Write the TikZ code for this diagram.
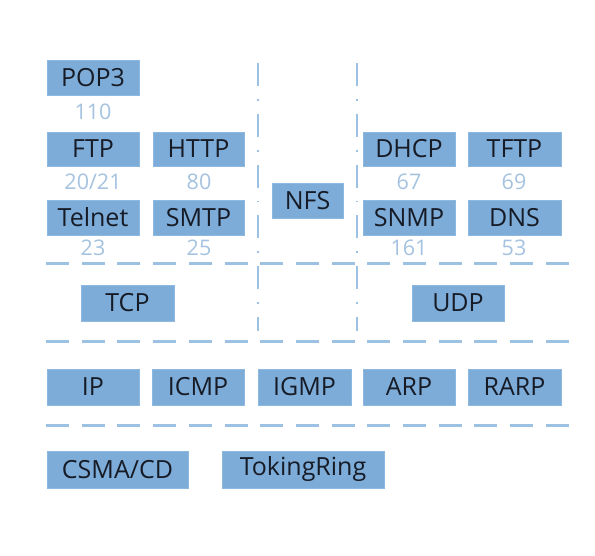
\documentclass[tikz,border=0pt]{standalone}
\usepackage{fontspec}
\setmainfont{Open Sans}
\definecolor{boxfill}{HTML}{7DACD8}
\definecolor{boxedge}{HTML}{8DB8E0}
\definecolor{numcol}{HTML}{A5C3E0}
\definecolor{linecol}{HTML}{9DC1E2}
\definecolor{txtcol}{HTML}{161B26}
\begin{document}
\begin{tikzpicture}[x=1pt,y=-1pt,
  proto/.style={draw=boxedge,line width=0.8pt,fill=boxfill,text=txtcol,font=\fontsize{25}{25}\selectfont,inner sep=0pt},
  portnum/.style={text=numcol,font=\fontsize{21.5}{21.5}\selectfont,inner sep=0pt},
  hsep/.style={draw=linecol,line width=3pt,dash pattern=on 23pt off 12.7pt},
  vsep/.style={draw=linecol,line width=2.2pt,dash pattern=on 23pt off 13pt on 1.8pt off 13pt}]
\useasboundingbox (0,0) rectangle (595,556);
\fill[white] (0,0) rectangle (595,556);
% helper: box by corners
\newcommand{\pbox}[6]{\node[proto,minimum width=#4-#2,minimum height=#5-#3] (#1) at ({(#2+#4)/2},{(#3+#5)/2}) {#6};}
% application layer
\pbox{pop}{47}{60}{139}{95}{POP3}
\pbox{ftp}{47}{132}{139}{166}{FTP}
\pbox{http}{153}{132}{244}{166}{HTTP}
\pbox{telnet}{47}{200}{139}{235}{Telnet}
\pbox{smtp}{153}{200}{244}{235}{SMTP}
\pbox{nfs}{272}{183}{343}{218}{NFS}
\pbox{dhcp}{363}{132}{455}{166}{DHCP}
\pbox{tftp}{468}{132}{561}{166}{TFTP}
\pbox{snmp}{363}{200}{455}{235}{SNMP}
\pbox{dns}{468}{200}{561}{235}{DNS}
\node[portnum] (n110) at (93,112) {110};
\node[portnum] (n2021) at (93,182) {20/21};
\node[portnum] (n80) at (199,182) {80};
\node[portnum] (n23) at (93,248) {23};
\node[portnum] (n25) at (199,248) {25};
\node[portnum] (n67) at (409,182) {67};
\node[portnum] (n69) at (514,182) {69};
\node[portnum] (n161) at (409,248) {161};
\node[portnum] (n53) at (514,248) {53};
% transport
\pbox{tcp}{81}{285}{174}{321}{TCP}
\pbox{udp}{412}{285}{504}{321}{UDP}
% network
\pbox{ip}{47}{369}{139}{405}{IP}
\pbox{icmp}{152}{369}{244}{405}{ICMP}
\pbox{igmp}{258}{369}{351}{405}{IGMP}
\pbox{arp}{363}{369}{455}{405}{ARP}
\pbox{rarp}{468}{369}{561}{405}{RARP}
% link
\pbox{csma}{47}{451}{188}{488}{CSMA/CD}
\pbox{token}{222}{451}{384}{488}{TokingRing}
% separators
\coordinate (v1t) at (258,63); \coordinate (v1b) at (258,331);
\coordinate (v2t) at (357,63); \coordinate (v2b) at (357,331);
\draw[vsep] (v1t) -- (v1b);
\draw[vsep] (v2t) -- (v2b);
\coordinate (h1l) at (46,264); \coordinate (h1r) at (570,264);
\coordinate (h2l) at (46,342); \coordinate (h2r) at (570,342);
\coordinate (h3l) at (46,425); \coordinate (h3r) at (570,425);
\draw[hsep] (h1l) -- (h1r);
\draw[hsep] (h2l) -- (h2r);
\draw[hsep] (h3l) -- (h3r);
\end{tikzpicture}
\end{document}
